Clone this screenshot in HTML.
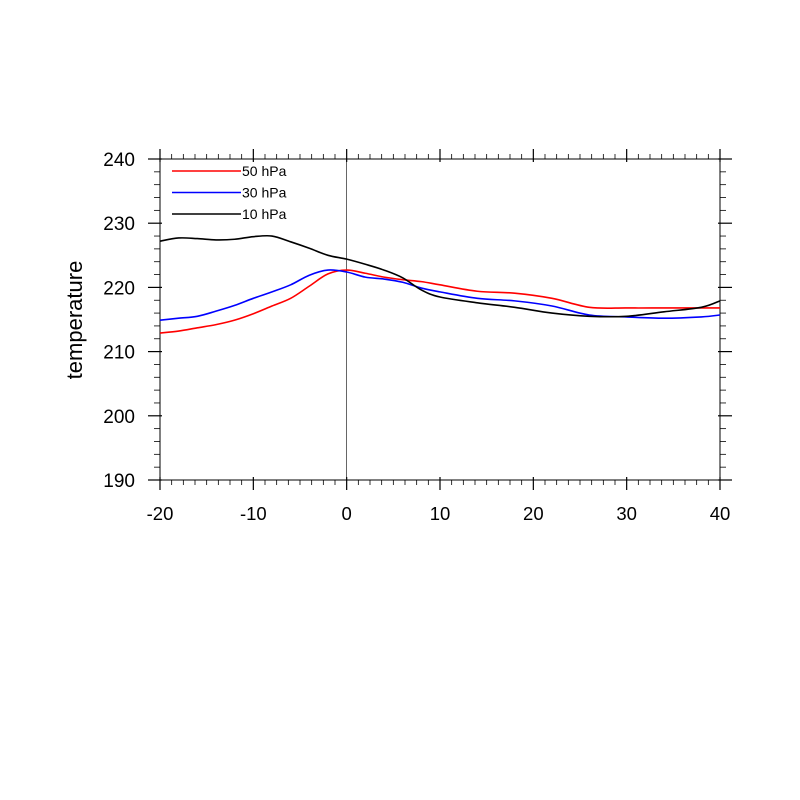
<!DOCTYPE html>
<html><head><meta charset="utf-8"><style>body{margin:0;background:#fff}svg{display:block;font-family:"Liberation Sans",sans-serif}</style></head>
<body>
<svg id="chart" width="800" height="800" viewBox="0 0 800 800" xmlns="http://www.w3.org/2000/svg">
<rect width="800" height="800" fill="#fff"/>
<g id="grid"></g>
<g id="series"></g>
<g id="legend"></g>
<text transform="translate(82,320) rotate(-90)" text-anchor="middle" font-size="22">temperature</text>
</svg>
<script>
const xTicks=[-20,-10,0,10,20,30,40];
const yTicks=[190,200,210,220,230,240];
const days=[-20,-18,-16,-14,-12,-10,-8,-6,-4,-2,0,2,4,6,8,10,14,18,22,26,30,34,38,40];
const t50=[212.9,213.2,213.7,214.2,214.9,215.9,217.1,218.3,220.2,222.1,222.7,222.2,221.6,221.2,220.9,220.4,219.4,219.1,218.3,216.9,216.8,216.8,216.8,216.8];
const t30=[214.9,215.2,215.5,216.3,217.2,218.3,219.3,220.4,221.9,222.7,222.4,221.6,221.3,220.8,219.9,219.3,218.3,217.9,217.1,215.7,215.4,215.2,215.4,215.7];
const t10=[227.2,227.7,227.6,227.4,227.5,227.9,228.0,227.1,226.1,225.0,224.4,223.6,222.7,221.5,219.6,218.5,217.6,216.9,216.0,215.5,215.5,216.2,216.9,217.9];
const names=["50 hPa","30 hPa","10 hPa"];
const colors=["#ff0000","#0000ff","#000000"];
const X0=160,X1=720,Y0=480,Y1=159;
const sx=v=>X0+(v-(-20))/60*(X1-X0);
const sy=v=>Y0-(v-190)/50*(Y0-Y1);
const NS="http://www.w3.org/2000/svg";
function mk(tag,attrs,parent){const e=document.createElementNS(NS,tag);for(const k in attrs)e.setAttribute(k,attrs[k]);parent.appendChild(e);return e;}
const g=document.getElementById('grid');
const frame=mk('rect',{x:X0,y:Y1,width:X1-X0,height:Y0-Y1,fill:'none',stroke:'#000','stroke-width':1},g);


const zl=mk('line',{x1:sx(0),x2:sx(0),y1:Y1,y2:Y0,stroke:'#000','stroke-width':0.6},g);


for(let v=-20;v<=40.001;v+=1.25){const maj=Math.abs(v/10-Math.round(v/10))<1e-6;const L=maj?10:5;const I=maj?3:0;
 mk('line',{x1:sx(v),x2:sx(v),y1:Y0-I,y2:Y0+L,stroke:'#000','stroke-width':maj?1.2:0.8},g);
 mk('line',{x1:sx(v),x2:sx(v),y1:Y1+I,y2:Y1-L,stroke:'#000','stroke-width':maj?1.2:0.8},g);}
for(let v=190;v<=240;v+=2){const maj=v%10===0;const L=maj?12:6;const I=maj?2:0;
 mk('line',{x1:X0+I,x2:X0-L,y1:sy(v),y2:sy(v),stroke:'#000','stroke-width':maj?1.2:0.8},g);
 mk('line',{x1:X1-I,x2:X1+L,y1:sy(v),y2:sy(v),stroke:'#000','stroke-width':maj?1.2:0.8},g);}
xTicks.forEach(v=>{const t=mk('text',{x:sx(v),y:520,'text-anchor':'middle','font-size':18.5},g);t.textContent=v;

});
yTicks.forEach(v=>{const t=mk('text',{x:135,y:sy(v)+7,'text-anchor':'end','font-size':19},g);t.textContent=v;

});
const s=document.getElementById('series');
[t50,t30,t10].forEach((arr,i)=>{
 const pts=days.map((d,j)=>[sx(d),sy(arr[j])]);
 let d='M'+pts[0][0]+','+pts[0][1];
 for(let j=0;j<pts.length-1;j++){const p0=pts[Math.max(0,j-1)],p1=pts[j],p2=pts[j+1],p3=pts[Math.min(pts.length-1,j+2)];
  d+=` C${p1[0]+(p2[0]-p0[0])/6},${p1[1]+(p2[1]-p0[1])/6} ${p2[0]-(p3[0]-p1[0])/6},${p2[1]-(p3[1]-p1[1])/6} ${p2[0]},${p2[1]}`;}
 const p=mk('path',{d:d,fill:'none',stroke:colors[i],'stroke-width':1.6},s);
 
 
});
const lg=document.getElementById('legend');
names.forEach((n,i)=>{const y=171+i*21.5;
 const l=mk('line',{x1:172,x2:241,y1:y,y2:y,stroke:colors[i],'stroke-width':1.6},lg);
 
 
 const t=mk('text',{x:242,y:y+5,'font-size':14},lg);t.textContent=n;
 
 });
</script>
</body></html>
